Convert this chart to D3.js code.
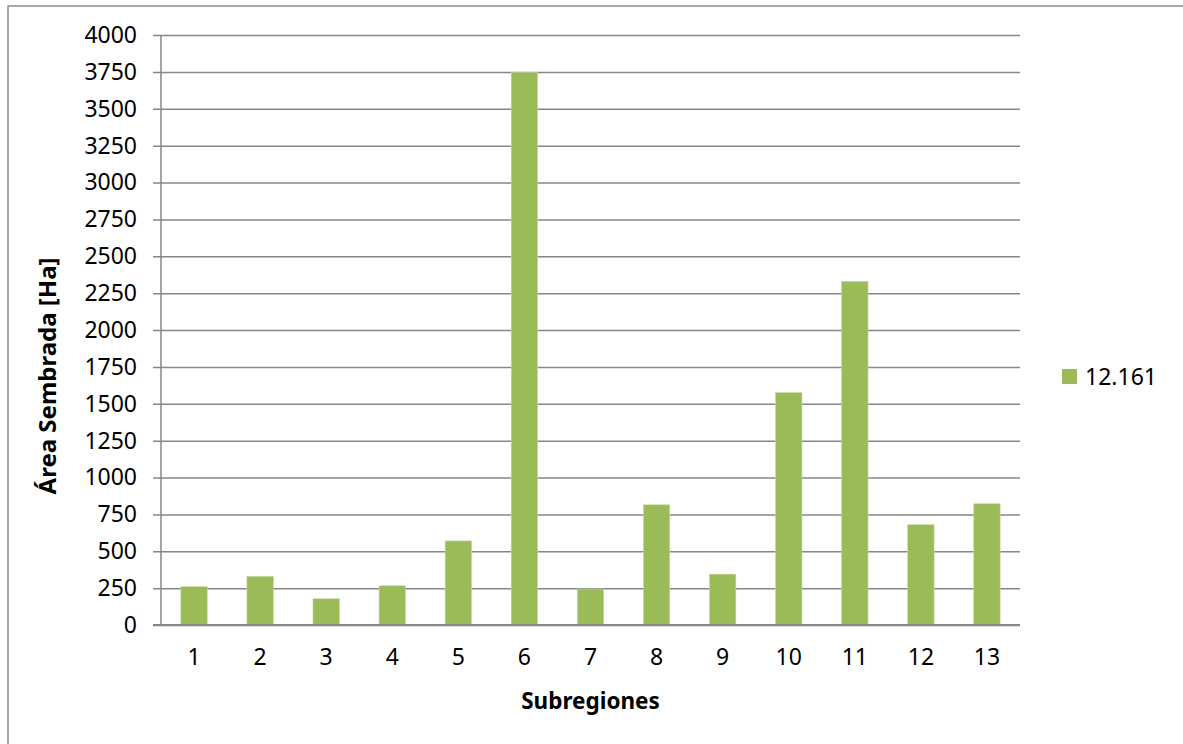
<!DOCTYPE html>
<html>
<head>
<meta charset="utf-8">
<script src="https://cdn.jsdelivr.net/npm/d3@7"></script>
<style>
  html, body { margin: 0; padding: 0; background: #ffffff; }
  svg { display: block; }
  text { font-family: "Noto Sans", "DejaVu Sans", sans-serif; fill: #000; }
</style>
</head>
<body>
<svg id="chart" width="1183" height="744"></svg>
<script>
// Área sembrada por subregión (total 12.161 ha)
const categories = ["1","2","3","4","5","6","7","8","9","10","11","12","13"];
const areaValues = [260, 330, 178, 266, 570, 3745, 244, 815, 345, 1576, 2330, 680, 822];
const yTicks = [0,250,500,750,1000,1250,1500,1750,2000,2250,2500,2750,3000,3250,3500,3750,4000];
const seriesName = "12.161";
const xTitle = "Subregiones";
const yTitle = "Área Sembrada [Ha]";

const W = 1183, H = 744;
const plot = { left: 161, right: 1020, top: 35, bottom: 625 };
const barColor = "#9BBB59";
const gridColor = "#868686";

const svg = d3.select("#chart");

// outer chart frame
svg.append("rect")
  .attr("x", 8).attr("y", 6)
  .attr("width", W + 20).attr("height", H + 20)
  .attr("fill", "#fff")
  .attr("stroke", "#8a8a8a").attr("stroke-width", 1.5);

const x = d3.scaleBand()
  .domain(categories)
  .range([plot.left, plot.right])
  .paddingInner(0.6)
  .paddingOuter(0.3);

const y = d3.scaleLinear()
  .domain([0, 4000])
  .range([plot.bottom, plot.top]);

// horizontal gridlines with outward tick marks
const yAxis = d3.axisLeft(y)
  .tickValues(yTicks)
  .tickSize(-(plot.right - plot.left))
  .tickFormat(d3.format("d"));

const gy = svg.append("g")
  .attr("transform", `translate(${plot.left},0)`)
  .call(yAxis);
gy.select(".domain").remove();
gy.selectAll(".tick line")
  .attr("x1", -8)
  .attr("stroke", gridColor)
  .attr("stroke-width", 1.5);
gy.selectAll(".tick text")
  .attr("x", -24)
  .style("font-size", "23px")
  .style("font-family", "'Noto Sans', sans-serif")
  .attr("fill", "#000");

// vertical value axis line
svg.append("line")
  .attr("x1", plot.left).attr("x2", plot.left)
  .attr("y1", plot.top).attr("y2", plot.bottom)
  .attr("stroke", gridColor).attr("stroke-width", 1.5);

// bars
svg.append("g")
  .selectAll("rect")
  .data(areaValues)
  .join("rect")
  .attr("x", (d, i) => x(categories[i]))
  .attr("y", d => y(d))
  .attr("width", x.bandwidth())
  .attr("height", d => y(0) - y(d))
  .attr("fill", barColor)
  .attr("stroke", "#c9dba6")
  .attr("stroke-width", 0.6);

// category axis
const xAxis = d3.axisBottom(x).tickSize(0).tickPadding(24);
const gx = svg.append("g")
  .attr("transform", `translate(0,${plot.bottom})`)
  .call(xAxis);
gx.select(".domain").remove();
gx.selectAll(".tick text")
  .style("font-size", "23px")
  .style("font-family", "'Noto Sans', sans-serif")
  .attr("fill", "#000");

svg.append("line")
  .attr("x1", plot.left - 8).attr("x2", plot.right)
  .attr("y1", plot.bottom).attr("y2", plot.bottom)
  .attr("stroke", gridColor).attr("stroke-width", 2);

// axis titles
svg.append("text")
  .attr("x", (plot.left + plot.right) / 2)
  .attr("y", 709)
  .attr("text-anchor", "middle")
  .style("font-size", "22.5px")
  .style("font-weight", "bold")
  .text(xTitle);

svg.append("text")
  .attr("transform", `translate(56,376) rotate(-90)`)
  .attr("text-anchor", "middle")
  .style("font-size", "24px")
  .style("font-weight", "bold")
  .text(yTitle);

// legend
const legend = svg.append("g").attr("transform", "translate(1062,369)");
legend.append("rect")
  .attr("width", 15).attr("height", 15)
  .attr("fill", barColor);
legend.append("text")
  .attr("x", 23).attr("y", 16)
  .style("font-size", "23px")
  .text(seriesName);
</script>
</body>
</html>
